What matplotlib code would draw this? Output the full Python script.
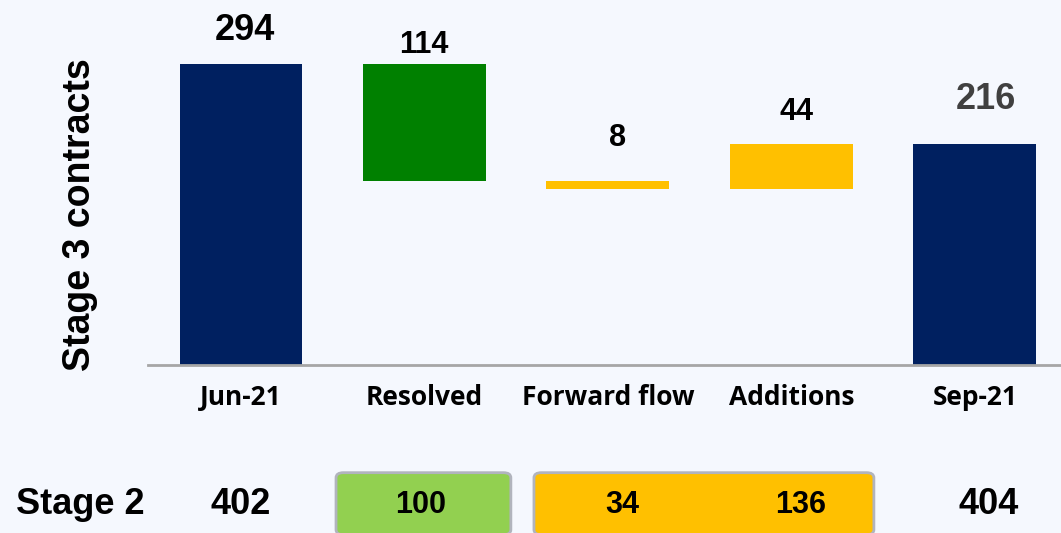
import matplotlib
matplotlib.use("Agg")
import matplotlib.pyplot as plt
from matplotlib.patches import FancyBboxPatch
import numpy as np

# ---- data ----
categories = ["Jun-21", "Resolved", "Forward flow", "Additions", "Sep-21"]
start_value = 294
changes = [-114, -8, 44]          # Resolved, Forward flow, Additions
end_value = 216
stage2_label = "Stage 2"
stage2_values = ["402", "100", "34", "136", "404"]
ylabel = "Stage 3 contracts"

# ---- styling ----
BG = "#F5F8FE"
NAVY = "#002060"
GREEN = "#008000"
YELLOW = "#FFC000"
LGREEN = "#92D050"
BOX_EDGE = "#B1B4BD"
bar_colors = [NAVY, GREEN, YELLOW, YELLOW, NAVY]
label_colors = ["black", "black", "black", "black", "#404040"]
label_sizes = [26, 22, 22, 22, 26]
label_dx = [2.5, -0.7, 7, 3.6, 8]     # points
label_dy = [24, 14, 31, 23, 32]       # points above bar top

# waterfall geometry from data
bottoms, heights = [0], [start_value]
level = start_value
for c in changes:
    new = level + c
    bottoms.append(min(level, new))
    heights.append(abs(c))
    level = new
bottoms.append(0)
heights.append(end_value)
values = [start_value] + [abs(c) for c in changes] + [end_value]

fig = plt.figure(figsize=(10.61, 5.33), dpi=100, facecolor=BG)
ax = fig.add_axes([148 / 1061, (533 - 365) / 533, 1 - 148 / 1061, 365 / 533])
ax.set_facecolor(BG)

x = np.arange(len(categories))
ax.bar(x, heights, bottom=bottoms, width=0.67, color=bar_colors, zorder=2)

ax.set_xlim(-0.507, 4.47)
ax.set_ylim(0, 356.5)

for s in ["top", "right", "left"]:
    ax.spines[s].set_visible(False)
ax.spines["bottom"].set_color("#A6A6A6")
ax.spines["bottom"].set_linewidth(2)
ax.set_yticks([])
ax.set_xticks(x)
ax.set_xticklabels(categories, fontfamily="Open Sans", fontweight="bold", fontsize=19)
ax.tick_params(axis="x", length=0, pad=14)

# value labels
for i, (b, h, v) in enumerate(zip(bottoms, heights, values)):
    ax.annotate(str(v), xy=(x[i], b + h), xytext=(label_dx[i], label_dy[i]),
                textcoords="offset points", ha="center", va="center",
                fontsize=label_sizes[i], fontweight="bold",
                fontfamily="Liberation Sans", color=label_colors[i],
                annotation_clip=False)

# y label
fig.text(80.5 / 1061, 1 - 215 / 533, ylabel, rotation=90, ha="center", va="center",
         fontsize=27, fontweight="bold", fontfamily="Liberation Sans", color="black")

# bottom Stage 2 row
trans = ax.get_xaxis_transform()
row_y = -140 / 365
box_specs = [((0.518, 1.471), LGREEN), ((1.597, 3.45), YELLOW)]
for (x0, x1), col in box_specs:
    p = FancyBboxPatch((x0, -0.465), x1 - x0, 0.17,
                       boxstyle="round,pad=0,rounding_size=0.04",
                       mutation_aspect=0.35,
                       transform=trans, facecolor=col, edgecolor=BOX_EDGE,
                       linewidth=2, clip_on=False, zorder=1)
    ax.add_patch(p)

ax.text(-0.877, row_y, stage2_label, transform=trans, ha="center", va="center",
        fontsize=26, fontweight="bold", fontfamily="Liberation Sans", clip_on=False)
stage2_dx = [0.0, -0.02, 0.076, 0.05, 0.076]
stage2_sizes = [26, 22, 22, 22, 26]
for i, v in enumerate(stage2_values):
    ax.text(x[i] + stage2_dx[i], row_y, v, transform=trans, ha="center", va="center",
            fontsize=stage2_sizes[i], fontweight="bold", fontfamily="Liberation Sans",
            clip_on=False, zorder=3)

fig.savefig("out.png", dpi=100, facecolor=BG)
